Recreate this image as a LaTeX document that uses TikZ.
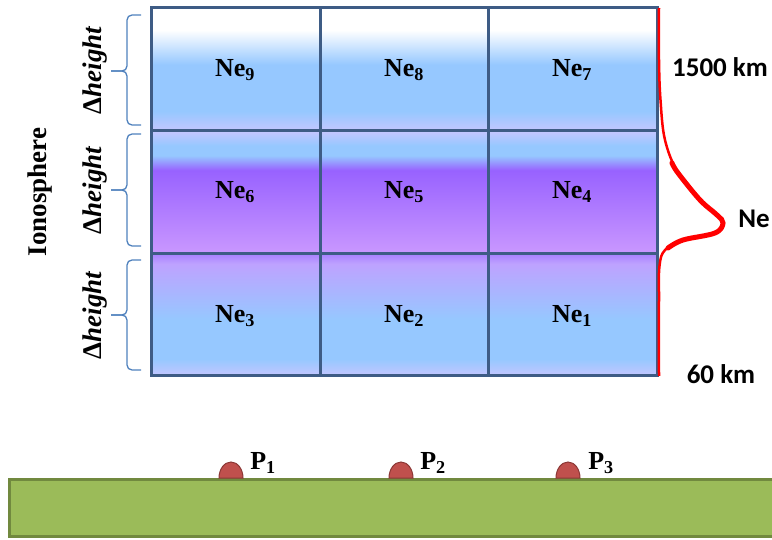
\documentclass[tikz,border=0pt]{standalone}
\usepackage{fontspec}
\setmainfont{Liberation Serif}
\newfontfamily\calfont{Carlito}
\usepackage{tikz}
\usetikzlibrary{positioning}
\definecolor{gridline}{RGB}{62,92,133}
\definecolor{skyblue}{RGB}{150,200,255}
\definecolor{lavender}{RGB}{196,198,255}
\definecolor{ionpurple}{RGB}{152,98,255}
\definecolor{lightpurple}{RGB}{202,152,255}
\definecolor{midpurple}{RGB}{168,128,255}
\definecolor{paleviolet}{RGB}{190,162,255}
\definecolor{bracecol}{RGB}{79,129,189}
\definecolor{grass}{RGB}{155,187,89}
\definecolor{grassedge}{RGB}{113,137,63}
\definecolor{site}{RGB}{192,80,77}
\definecolor{siteedge}{RGB}{140,56,54}

% one shading per layer, 25bp = bottom edge, 75bp = top edge
\pgfdeclareverticalshading{layertop}{100bp}{color(0bp)=(lavender); color(25bp)=(lavender);
  color(33bp)=(skyblue); color(52bp)=(skyblue); color(66bp)=(white); color(100bp)=(white)}
\pgfdeclareverticalshading{layermid}{100bp}{color(0bp)=(lightpurple); color(25bp)=(lightpurple);
  color(59bp)=(ionpurple); color(65bp)=(skyblue); color(69bp)=(skyblue);
  color(75bp)=(lavender); color(100bp)=(lavender)}
\pgfdeclareverticalshading{layerlow}{100bp}{color(0bp)=(lavender); color(25bp)=(lavender);
  color(32bp)=(skyblue); color(48bp)=(skyblue); color(71bp)=(paleviolet);
  color(75bp)=(midpurple); color(100bp)=(midpurple)}

\begin{document}
\begin{tikzpicture}[x=1pt, y=-1pt,
   cell/.style={font=\fontsize{26}{26}\selectfont\bfseries, inner sep=0pt},
   dh/.style={font=\fontsize{27}{27}\selectfont\bfseries, rotate=90, inner sep=0pt},
   km/.style={font=\calfont\fontsize{27}{27}\selectfont\bfseries, inner sep=0pt},
   brc/.style={draw=bracecol, line width=1.3pt, rounded corners=5pt},
   sitept/.style={fill=site, draw=siteedge, line width=1pt},
   plab/.style={font=\fontsize{26}{26}\selectfont\bfseries, inner sep=0pt}]
  \useasboundingbox (0,0) rectangle (772,540);

  % ionosphere layers
  \shade[shading=layertop] (151,8) rectangle (657,131);
  \shade[shading=layermid] (151,131) rectangle (657,254);
  \shade[shading=layerlow] (151,254) rectangle (657,376);
  \draw[gridline, line width=3pt] (151,8) rectangle (657,376);
  \foreach \gx in {320,488}
    \draw[gridline, line width=3pt] (\gx,8) -- (\gx,376);
  \foreach \gy in {131,254}
    \draw[gridline, line width=3pt] (151,\gy) -- (657,\gy);

  \node[cell] (ne9) at (235,70) {Ne\textsubscript{9}};
  \node[cell] (ne8) at (404,70) {Ne\textsubscript{8}};
  \node[cell] (ne7) at (572,70) {Ne\textsubscript{7}};
  \node[cell] (ne6) at (235,192) {Ne\textsubscript{6}};
  \node[cell] (ne5) at (404,192) {Ne\textsubscript{5}};
  \node[cell] (ne4) at (572,192) {Ne\textsubscript{4}};
  \node[cell] (ne3) at (235,316) {Ne\textsubscript{3}};
  \node[cell] (ne2) at (404,316) {Ne\textsubscript{2}};
  \node[cell] (ne1) at (572,316) {Ne\textsubscript{1}};

  % electron density profile
  \draw[red, line width=2.5pt] plot[smooth, tension=0.6] coordinates {(659,8) (659,60)
     (660.5,100) (665,140) (678,173) (700,200) (717,215) (723,223) (715,233)
     (683,240) (665,250) (659.5,266) (659,300) (659,376)};
  \draw[red, line width=5pt, line cap=round] plot[smooth, tension=0.6] coordinates {
     (672,163) (678,173) (700,200) (717,215) (723,223) (715,233) (683,240) (668,248)};
  \node[km] (top) at (720,67) {1500 km};
  \node[km] (ne) at (754,219) {Ne};
  \node[km] (bot) at (721,374) {60 km};

  % layer thickness
  \foreach \bt/\bm/\bb in {15/71/125, 134/190/246, 260/315/370} {
    \draw[brc] (141,\bt) -- (127,\bt) -- (127,\bm) -- (111,\bm);
    \draw[brc] (111,\bm) -- (127,\bm) -- (127,\bb) -- (141,\bb);
  }
  \node[dh] (dh1) at (95,70) {Δ\textit{height}};
  \node[dh] (dh2) at (95,190) {Δ\textit{height}};
  \node[dh] (dh3) at (95,315) {Δ\textit{height}};
  \node[dh] (iono) at (40,192) {Ionosphere};

  % ground and receivers
  \draw[fill=grass, draw=grassedge, line width=3pt] (9,479) rectangle (780,536);
  \draw[sitept] (219,478) arc[start angle=180, end angle=0, x radius=12, y radius=-16] -- cycle;
  \draw[sitept] (389,478) arc[start angle=180, end angle=0, x radius=12, y radius=-16] -- cycle;
  \draw[sitept] (556,478) arc[start angle=180, end angle=0, x radius=12, y radius=-16] -- cycle;
  \node[plab] (p1) at (263,463) {P\textsubscript{1}};
  \node[plab] (p2) at (433,463) {P\textsubscript{2}};
  \node[plab] (p3) at (601,463) {P\textsubscript{3}};
\end{tikzpicture}
\end{document}
